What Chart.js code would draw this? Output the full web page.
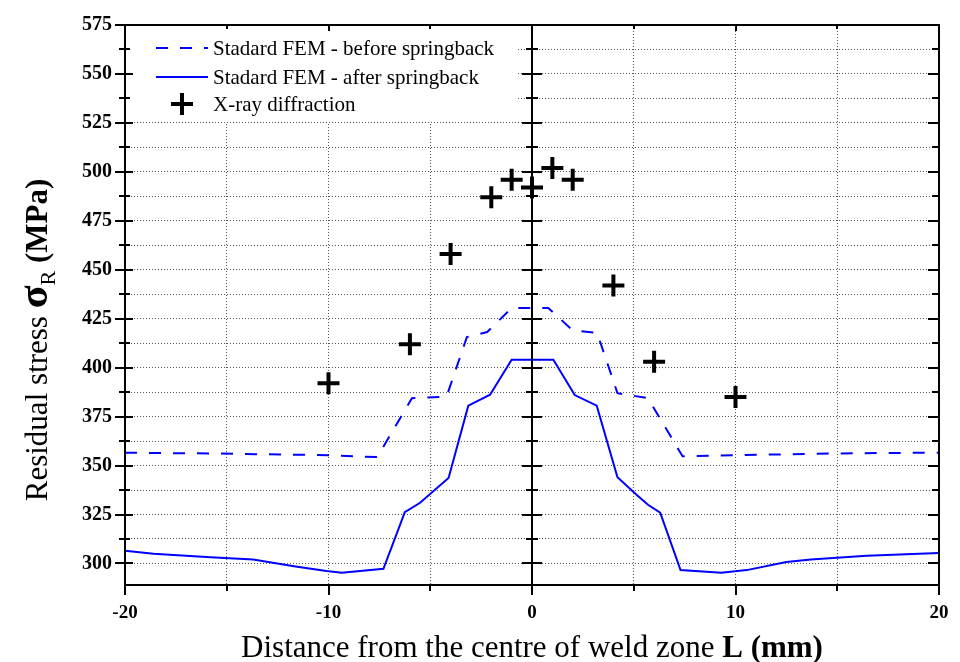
<!DOCTYPE html>
<html>
<head>
<meta charset="utf-8">
<script src="https://cdn.jsdelivr.net/npm/chart.js@4.4.0/dist/chart.umd.min.js"></script>
<style>
  html, body { margin: 0; padding: 0; background: #fff; }
  #wrap { width: 960px; height: 662px; position: relative; }
</style>
</head>
<body>
<div id="wrap"><canvas id="stressChart"></canvas></div>
<script>
// distance from weld centre L (mm) -> residual stress (MPa)
const beforeL = [-20, -15.3, -9.9, -8.5, -7.6, -5.9, -4.2, -3.2, -2.2, -1.0, 0, 0.8, 2.0, 3.2, 4.2, 5.7, 7.4, 10, 15, 20];
const beforeS = [356.6, 356.1, 355.3, 354.6, 354.4, 384.4, 385.2, 415.6, 418.2, 430.5, 430.5, 430.5, 419.0, 417.7, 387.0, 384.4, 354.7, 355.3, 356.2, 356.6];

const afterL = [-20, -18.6, -15.8, -13.7, -11.7, -10.1, -9.35, -7.3, -6.25, -5.5, -4.1, -3.13, -2.06, -1.0, 0, 1.05, 2.1, 3.18, 4.2, 5.15, 5.7, 6.3, 7.3, 9.3, 10.55, 12.5, 13.7, 16.45, 20];
const afterS = [306.5, 305.0, 303.2, 302.0, 298.6, 296.1, 295.2, 297.3, 326.2, 331.0, 343.7, 380.6, 386.2, 404.0, 404.0, 404.0, 386.0, 380.6, 344.0, 335.0, 330.0, 325.9, 296.6, 295.2, 296.6, 300.7, 302.0, 304.0, 305.4];

const xrayL = [-10, -6, -4, -2, -1, 0, 1, 2, 4, 6, 10];
const xrayS = [392, 412, 458, 487, 496, 492, 502, 496, 442, 403, 385];

const xTicks = [-20, -15, -10, -5, 0, 5, 10, 15, 20];
const yTicks = [300, 312.5, 325, 337.5, 350, 362.5, 375, 387.5, 400, 412.5, 425, 437.5, 450, 462.5, 475, 487.5, 500, 512.5, 525, 537.5, 550, 562.5, 575];

const legendLabels = ['Stadard FEM - before springback', 'Stadard FEM - after springback', 'X-ray diffraction'];

const SERIF = '"Liberation Serif", "DejaVu Serif", serif';
const BLUE = '#0000ff';

function toPoints(xs, ys) {
    return xs.map((v, i) => ({ x: v, y: ys[i] }));
}

// mixed-font text, centred on cx
function drawRich(ctx, parts, cx, cy) {
    let total = 0;
    parts.forEach(p => {
        ctx.font = p.font;
        p.w = ctx.measureText(p.text).width;
        total += p.w;
    });
    let px = cx - total / 2;
    parts.forEach(p => {
        ctx.font = p.font;
        ctx.fillText(p.text, px, cy + (p.dy || 0));
        px += p.w;
    });
}

function seg(ctx, x1, y1, x2, y2) {
    ctx.beginPath();
    ctx.moveTo(x1, y1);
    ctx.lineTo(x2, y2);
    ctx.stroke();
}

const framePlugin = {
    id: 'framePlugin',
    beforeDatasetsDraw(chart) {
        // white legend box hides the grid behind it
        const a = chart.chartArea;
        const ctx = chart.ctx;
        ctx.save();
        ctx.fillStyle = '#fff';
        ctx.fillRect(a.left + 1, a.top + 1, 392, 96);
        ctx.restore();
    },
    afterDatasetsDraw(chart) {
        const { ctx, chartArea: a, scales: { x, y } } = chart;
        ctx.save();
        ctx.strokeStyle = '#000';
        ctx.lineWidth = 2;
        ctx.strokeRect(a.left, a.top, a.right - a.left, a.bottom - a.top);

        const x0 = x.getPixelForValue(0);
        seg(ctx, x0, a.top, x0, a.bottom);

        yTicks.forEach(v => {
            const py = Math.round(y.getPixelForValue(v));
            const major = v % 25 === 0;
            seg(ctx, a.left - (major ? 10 : 6), py, a.left + (major ? 8 : 5), py);
            seg(ctx, a.right - (major ? 11 : 7), py, a.right, py);
            seg(ctx, x0 - (major ? 10 : 6), py, x0 + (major ? 10 : 6), py);
        });
        xTicks.forEach(v => {
            const px = Math.round(x.getPixelForValue(v));
            const major = v % 10 === 0;
            seg(ctx, px, a.bottom, px, a.bottom + (major ? 10 : 6));
            seg(ctx, px, a.top, px, a.top + (major ? 6 : 4));
        });
        ctx.restore();
    },
    afterDraw(chart) {
        const ctx = chart.ctx;
        const ds = chart.data.datasets;
        ctx.save();
        ctx.fillStyle = '#000';
        ctx.textBaseline = 'alphabetic';

        // legend
        const rows = [48, 77, 104];
        ctx.lineWidth = 2;
        ctx.strokeStyle = BLUE;
        ctx.setLineDash(ds[0].borderDash);
        seg(ctx, 156, rows[0], 208, rows[0]);
        ctx.setLineDash([]);
        seg(ctx, 156, rows[1], 208, rows[1]);
        ctx.strokeStyle = '#000';
        ctx.lineWidth = 4;
        seg(ctx, 171, rows[2], 193, rows[2]);
        seg(ctx, 182, rows[2] - 11, 182, rows[2] + 11);
        ctx.font = '21px ' + SERIF;
        ctx.textAlign = 'left';
        legendLabels.forEach((t, i) => ctx.fillText(t, 213, rows[i] + 7));

        // axis titles
        drawRich(ctx, [
            { text: 'Distance from the centre of weld zone ', font: '31px ' + SERIF },
            { text: 'L (mm)', font: 'bold 31px ' + SERIF }
        ], 532, 657);

        ctx.translate(47, 340);
        ctx.rotate(-Math.PI / 2);
        drawRich(ctx, [
            { text: 'Residual stress ', font: '31px ' + SERIF },
            { text: 'σ', font: 'bold 42px ' + SERIF },
            { text: 'R', font: '22px ' + SERIF, dy: 8 },
            { text: ' (MPa)', font: 'bold 31px ' + SERIF }
        ], 0, 0);
        ctx.restore();
    }
};

const ctx = document.getElementById('stressChart');

new Chart(ctx, {
    type: 'scatter',
    data: {
        datasets: [{
            label: legendLabels[0],
            data: toPoints(beforeL, beforeS),
            showLine: true,
            borderColor: BLUE,
            borderWidth: 2,
            borderDash: [12, 12],
            pointRadius: 0,
            tension: 0
        }, {
            label: legendLabels[1],
            data: toPoints(afterL, afterS),
            showLine: true,
            borderColor: BLUE,
            borderWidth: 2,
            pointRadius: 0,
            tension: 0
        }, {
            label: legendLabels[2],
            data: toPoints(xrayL, xrayS),
            showLine: false,
            pointStyle: 'cross',
            pointRadius: 11,
            pointBorderWidth: 4,
            borderColor: '#000',
            backgroundColor: '#000'
        }]
    },
    options: {
        responsive: true,
        maintainAspectRatio: false,
        animation: false,
        layout: { padding: { top: 25, right: 21, left: 0, bottom: 0 } },
        plugins: {
            legend: { display: false },
            tooltip: { enabled: false }
        },
        scales: {
            x: {
                type: 'linear',
                position: 'bottom',
                min: -20,
                max: 20,
                afterBuildTicks: s => { s.ticks = xTicks.map(v => ({ value: v })); },
                afterFit: s => {
                    s.height = 77;
                    s.paddingLeft = 0;
                    s.paddingRight = 0;
                },
                grid: { color: '#555', lineWidth: 1, drawTicks: false },
                border: { display: false, dash: [1, 2] },
                ticks: {
                    autoSkip: false,
                    maxRotation: 0,
                    padding: 17,
                    color: '#000',
                    font: { family: SERIF, size: 19, weight: 'bold' },
                    callback: v => (v % 10 === 0 ? String(v) : '')
                }
            },
            y: {
                type: 'linear',
                min: 289,
                max: 575,
                afterBuildTicks: s => { s.ticks = yTicks.map(v => ({ value: v })); },
                afterFit: s => { s.width = 125; },
                grid: { color: '#555', lineWidth: 1, drawTicks: false },
                border: { display: false, dash: [1, 2] },
                ticks: {
                    autoSkip: false,
                    padding: 13,
                    color: '#000',
                    font: { family: SERIF, size: 20, weight: 'bold' },
                    callback: v => (v % 25 === 0 ? String(v) : '')
                }
            }
        }
    },
    plugins: [framePlugin]
});
</script>
</body>
</html>
